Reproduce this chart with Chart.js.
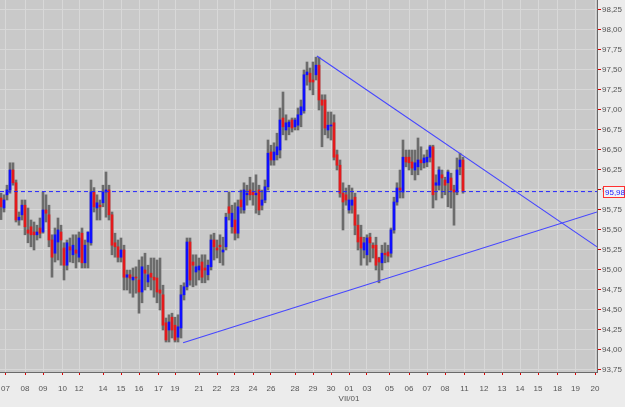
<!DOCTYPE html>
<html>
<head>
<meta charset="utf-8">
<script src="https://cdn.jsdelivr.net/npm/chart.js@4.4.1/dist/chart.umd.min.js"></script>
<style>
  html, body { margin: 0; padding: 0; background: #ececec; }
</style>
</head>
<body>
<canvas id="chart" width="625" height="407"></canvas>
<script>
// OHLC per bar (left to right)
const opens = [95.90,95.775,95.94,96.00,96.25,96.09,95.625,95.69,95.81,95.50,95.54,95.475,95.44,95.525,95.475,95.75,95.69,95.375,95.21,95.35,
  95.475,95.275,95.06,95.29,95.19,95.25,95.16,95.46,95.09,95.35,95.34,95.975,95.775,95.81,95.84,95.975,96.00,95.69,95.34,95.29,
  95.16,95.25,94.91,94.94,94.875,94.91,94.875,94.725,95.00,94.85,94.96,94.91,94.90,94.75,94.69,94.34,94.25,94.41,94.31,94.16,
  94.275,94.69,94.79,95.35,95.10,94.975,95.00,95.10,95.025,94.94,95.04,95.375,95.275,95.31,95.225,95.29,95.79,95.54,95.625,95.46,
  95.875,95.75,95.94,96.00,95.975,95.94,96.00,95.81,95.875,96.04,96.475,96.375,96.44,96.50,96.90,96.75,96.79,96.875,96.79,96.81,
  96.94,96.99,97.44,97.46,97.375,97.44,97.56,97.125,97.125,96.75,96.80,96.84,96.44,96.31,95.96,95.94,95.75,95.81,95.91,95.56,
  95.41,95.25,95.19,95.41,95.31,95.31,95.15,95.09,95.21,95.225,95.21,95.50,95.85,96.025,95.975,96.41,96.41,96.35,96.25,96.29,
  96.375,96.34,96.35,96.41,96.54,96.06,96.06,96.19,96.125,96.09,96.15,96.00,95.975,96.29,96.375];
const highs = [95.96,95.94,96.06,96.34,96.34,96.125,95.725,95.875,95.875,95.775,95.625,95.60,95.56,95.65,95.975,95.94,95.81,95.44,95.525,95.65,
  95.56,95.34,95.375,95.40,95.44,95.44,95.475,95.525,95.375,95.475,96.125,96.03,95.94,95.875,96.06,96.225,96.06,95.725,95.46,95.375,
  95.40,95.31,95.00,95.00,95.025,95.04,95.125,95.165,95.21,95.06,95.15,95.15,95.125,95.15,94.81,94.40,94.44,94.46,94.41,94.44,
  94.81,94.84,95.40,95.40,95.19,95.19,95.15,95.19,95.19,95.125,95.44,95.46,95.375,95.44,95.41,95.71,95.975,95.81,95.84,95.875,
  96.00,96.09,96.06,96.16,96.09,96.19,96.06,96.00,96.125,96.625,96.56,96.59,96.71,97.025,97.225,96.94,96.875,96.90,96.90,97.025,
  97.125,97.50,97.60,97.525,97.60,97.66,97.66,97.19,97.19,96.975,96.975,96.94,96.50,96.375,96.09,96.025,96.06,96.025,95.96,95.69,
  95.56,95.41,95.44,95.46,95.34,95.41,95.16,95.31,95.34,95.31,95.525,95.91,96.09,96.25,96.625,96.50,96.50,96.50,96.50,96.65,
  96.54,96.44,96.50,96.56,96.56,96.19,96.29,96.25,96.16,96.25,96.21,96.06,96.40,96.46,96.41];
const lows = [95.63,95.725,95.875,95.96,96.06,95.60,95.56,95.625,95.44,95.34,95.29,95.25,95.375,95.40,95.46,95.60,95.29,94.91,95.10,95.125,
  95.06,94.875,95.00,95.10,95.09,95.025,95.10,95.025,95.025,95.025,95.31,95.725,95.625,95.625,95.79,95.66,95.625,95.19,95.16,95.10,
  95.10,94.75,94.75,94.71,94.66,94.71,94.46,94.59,94.75,94.79,94.75,94.66,94.59,94.50,94.25,94.10,94.10,94.15,94.10,94.10,
  94.15,94.625,94.75,94.81,94.79,94.81,94.875,94.84,94.84,94.875,95.00,95.125,95.15,95.09,95.06,95.25,95.625,95.46,95.375,95.40,
  95.71,95.71,95.81,95.875,95.81,95.71,95.69,95.75,95.84,96.00,96.31,96.31,96.375,96.40,96.69,96.625,96.69,96.725,96.75,96.75,
  96.79,96.96,97.31,97.25,97.19,97.375,97.00,96.54,96.69,96.65,96.625,96.375,96.25,95.91,95.50,95.81,95.71,95.71,95.44,95.25,
  95.06,95.15,95.06,95.10,95.15,95.00,94.84,95.00,95.09,95.10,95.16,95.46,95.81,95.90,95.90,96.29,96.25,96.19,96.125,96.19,
  96.25,96.275,96.29,96.35,95.775,95.875,96.00,95.90,95.94,95.79,95.775,95.56,95.94,96.19,95.96];
const closes = [95.79,95.875,96.00,96.25,96.09,95.625,95.66,95.81,95.54,95.46,95.44,95.44,95.475,95.46,95.75,95.71,95.375,95.16,95.44,95.50,
  95.375,95.06,95.34,95.25,95.31,95.21,95.40,95.09,95.31,95.475,95.975,95.79,95.84,95.79,95.975,96.00,95.69,95.31,95.29,95.16,
  95.25,94.91,94.94,94.90,94.91,94.90,94.725,95.04,94.96,94.94,94.91,94.875,94.725,94.71,94.31,94.125,94.35,94.25,94.125,94.29,
  94.69,94.79,95.35,94.875,95.06,95.04,95.05,94.91,95.00,95.06,95.375,95.29,95.25,95.29,95.25,95.66,95.71,95.71,95.46,95.79,
  95.79,96.00,95.96,95.94,95.94,95.96,95.75,95.875,96.04,96.46,96.375,96.475,96.54,96.875,96.79,96.84,96.85,96.775,96.875,96.94,
  97.04,97.44,97.475,97.35,97.35,97.56,97.125,97.06,96.775,96.81,96.81,96.41,96.31,95.96,95.85,95.875,95.875,95.875,95.56,95.35,
  95.275,95.34,95.40,95.34,95.275,95.06,95.10,95.21,95.19,95.175,95.50,95.85,96.025,96.00,96.41,96.35,96.34,96.275,96.34,96.375,
  96.34,96.40,96.41,96.54,95.94,96.09,96.25,96.15,96.06,96.225,96.00,95.975,96.25,96.375,95.98];

// day labels on the time axis (position in bar units)
const xTickPos = [1.5,8,14,20.5,26,34,40,46,52.5,58,66,72,78,84,90,98,104,110,116,122,129.5,136,142,148,154.5,161,167,173,179,185.5,191.5,198];
const xTickLabels = ['07','08','09','10','12','14','15','16','17','19','21','22','23','24','26','28','29','30','01','03','05','06','07','08','11','12','13','14','15','18','19','20'];
const monthLabel = 'VII/01';
const monthAt = 18;

const yTicks = [93.75,94.00,94.25,94.50,94.75,95.00,95.25,95.50,95.75,96.00,96.25,96.50,96.75,97.00,97.25,97.50,97.75,98.00,98.25];
const lastPrice = 95.98;

// triangle trendlines
const upperTrend = [{x: 105.3, y: 97.675}, {x: 198.67, y: 95.29}];
const lowerTrend = [{x: 60.7, y: 94.09}, {x: 198.67, y: 95.725}];

const BLUE = '#1010ff', RED = '#e41a1c', WICK = '#6c6c6c';
const fmt = v => v.toFixed(2).replace('.', ',');

const wickData = opens.map((o, i) => ({x: i, y: [lows[i], highs[i]]}));
const bodyData = opens.map((o, i) => ({x: i, y: [o, closes[i]]}));
const bodyColors = opens.map((o, i) => closes[i] >= o ? BLUE : RED);

// grey plot area + price box on the axis
const plotBg = {
  id: 'plotBg',
  beforeDraw(chart) {
    const {ctx, chartArea: a} = chart;
    ctx.save();
    ctx.fillStyle = '#c9c9c9';
    ctx.fillRect(a.left, a.top, a.right - a.left, a.bottom - a.top);
    ctx.restore();
  },
  afterDraw(chart) {
    const {ctx} = chart;
    const y = Math.round(chart.scales.y.getPixelForValue(lastPrice));
    ctx.save();
    ctx.fillStyle = '#f4f4f4';
    ctx.fillRect(603.5, y - 5.5, 21, 11);
    ctx.strokeStyle = '#ff3030';
    ctx.lineWidth = 1;
    ctx.strokeRect(603.5, y - 5.5, 21, 11);
    ctx.fillStyle = '#2020ff';
    ctx.font = '8px "Liberation Sans", Arial, sans-serif';
    ctx.textBaseline = 'middle';
    ctx.fillText(fmt(lastPrice), 605, y + 0.5);
    ctx.restore();
  }
};

new Chart(document.getElementById('chart'), {
  type: 'bar',
  data: {
    datasets: [
      {
        type: 'line', data: [{x: -0.34, y: lastPrice}, {x: 198.67, y: lastPrice}],
        borderColor: '#2424ff', borderWidth: 1, borderDash: [4, 3], pointRadius: 0, order: 0
      },
      {
        type: 'line', data: upperTrend,
        borderColor: '#4646ff', borderWidth: 1.1, pointRadius: 0, order: 0
      },
      {
        type: 'line', data: lowerTrend,
        borderColor: '#4646ff', borderWidth: 1.1, pointRadius: 0, order: 0
      },
      {
        data: bodyData, backgroundColor: bodyColors,
        barThickness: 2, grouped: false, minBarLength: 1, order: 1
      },
      {
        data: wickData, backgroundColor: WICK,
        barThickness: 2, grouped: false, order: 2
      }
    ]
  },
  options: {
    responsive: false,
    animation: false,
    devicePixelRatio: 1,
    layout: {padding: 0},
    plugins: {legend: {display: false}, tooltip: {enabled: false}},
    scales: {
      x: {
        type: 'linear', position: 'bottom', offset: false, min: -1 / 3, max: 199 - 1 / 3,
        afterBuildTicks: s => { s.ticks = xTickPos.map(v => ({value: v})); },
        afterFit: s => { s.height = 35; s.paddingLeft = 0; s.paddingRight = 0; },
        grid: {color: '#d8d8d8', tickColor: '#e00000', tickLength: 3, offset: false},
        border: {color: '#6a6a6a'},
        ticks: {
          autoSkip: false, maxRotation: 0, padding: 9, color: '#555',
          font: {size: 8, family: '"Liberation Sans", Arial, sans-serif'},
          callback: (v, i) => i === monthAt ? [xTickLabels[i], monthLabel] : xTickLabels[i]
        }
      },
      y: {
        type: 'linear', position: 'right', min: 93.725, max: 98.375,
        afterBuildTicks: s => { s.ticks = yTicks.map(v => ({value: v})); },
        afterFit: s => { s.width = 28; s.paddingTop = 0; s.paddingBottom = 0; },
        grid: {color: '#d8d8d8', tickColor: '#e00000', tickLength: 4},
        border: {color: '#6a6a6a'},
        ticks: {
          padding: 1, color: '#555',
          font: {size: 8, family: '"Liberation Sans", Arial, sans-serif'},
          callback: v => fmt(v)
        }
      }
    }
  },
  plugins: [plotBg]
});
</script>
</body>
</html>
